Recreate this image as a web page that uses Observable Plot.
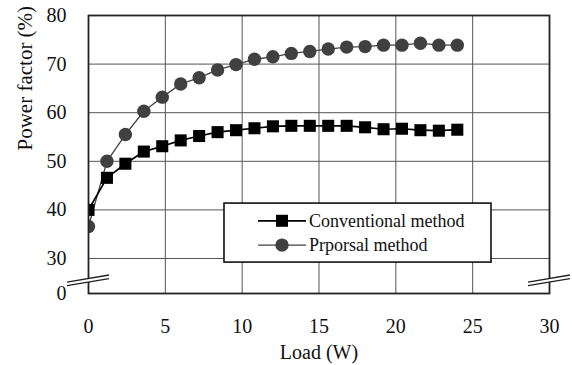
<!DOCTYPE html>
<html>
<head>
<meta charset="utf-8">
<script src="https://cdn.jsdelivr.net/npm/d3@7"></script>
<script src="https://cdn.jsdelivr.net/npm/@observablehq/plot@0.6"></script>
<style>
  html, body { margin: 0; padding: 0; background: #fff; }
  #chart { position: relative; width: 572px; height: 365px; }
  svg, svg text { font-family: "Liberation Serif", "Times New Roman", serif !important; }
</style>
</head>
<body>
<div id="chart"></div>
<script>
// ---- data ----
const loads = [0, 1.2, 2.4, 3.6, 4.8, 6.0, 7.2, 8.4, 9.6, 10.8, 12.0, 13.2, 14.4, 15.6, 16.8, 18.0, 19.2, 20.4, 21.6, 22.8, 24.0];
const conventional = [40.0, 46.6, 49.5, 52.0, 53.1, 54.3, 55.2, 56.0, 56.4, 56.8, 57.2, 57.3, 57.3, 57.3, 57.3, 57.0, 56.6, 56.7, 56.4, 56.3, 56.5];
const proposal = [36.6, 50.0, 55.5, 60.3, 63.2, 65.9, 67.2, 68.8, 69.9, 71.0, 71.5, 72.2, 72.6, 73.1, 73.5, 73.6, 73.9, 73.9, 74.3, 73.9, 73.9];
const seriesNames = ["Conventional method", "Prporsal method"];
const xTicks = [0, 5, 10, 15, 20, 25, 30];
const yTickLabels = ["0", "30", "40", "50", "60", "70", "80"];
const xLabel = "Load (W)";
const yLabel = "Power factor (%)";

// broken axis: the "0" tick sits at the bottom of a shortened scale
const BREAK_BASE = 22.8;
const BREAK_AT = 25.4;
const yTicks = yTickLabels.map(t => t === "0" ? BREAK_BASE : +t);
const yFmt = v => v === BREAK_BASE ? "0" : String(v);

const convData = loads.map((x, i) => ({x, y: conventional[i]}));
const propData = loads.map((x, i) => ({x, y: proposal[i]}));

const DARK = "#404040";
const SERIF = "'Liberation Serif', 'Times New Roman', serif";

const plot = Plot.plot({
  width: 572,
  height: 365,
  marginLeft: 88,
  marginRight: 23,
  marginTop: 15,
  marginBottom: 72,
  style: {fontFamily: SERIF, background: "#fff", color: "#111"},
  x: {domain: [0, 30]},
  y: {domain: [BREAK_BASE, 80]},
  marks: [
    Plot.gridX(xTicks.filter(t => t > 0 && t < 30), {stroke: "#555", strokeOpacity: 1, strokeWidth: 1}),
    Plot.gridY(yTicks.filter(t => t > BREAK_BASE && t < 80), {stroke: "#555", strokeOpacity: 1, strokeWidth: 1}),
    Plot.axisX({ticks: xTicks, tickSize: 0, tickPadding: 25, fontSize: 20, fontFamily: SERIF, label: null}),
    Plot.axisY({ticks: yTicks, tickFormat: yFmt, tickSize: 0, tickPadding: 22, fontSize: 20, fontFamily: SERIF, label: null}),
    Plot.line(propData, {x: "x", y: "y", stroke: DARK, strokeWidth: 1.3, clip: true}),
    Plot.line(convData, {x: "x", y: "y", stroke: "#000", strokeWidth: 1.7, clip: true}),
    Plot.dot(propData, {x: "x", y: "y", r: 6.7, fill: DARK, stroke: "none", clip: true}),
    Plot.dot(convData, {x: "x", y: "y", symbol: "square", r: 6.8, fill: "#000", stroke: "none", clip: true}),
    Plot.frame({stroke: "#222", strokeWidth: 1.8}),
    Plot.text([xLabel], {frameAnchor: "bottom", dy: 59, lineAnchor: "middle", fontSize: 20, fontFamily: SERIF, fill: "#111"}),
    Plot.text([yLabel], {frameAnchor: "left", dx: -63, dy: -4, rotate: -90, lineAnchor: "middle", fontSize: 21, fontFamily: SERIF, fill: "#111"})
  ]
});

document.getElementById("chart").appendChild(plot);

// ---- axis break marks & legend, placed through the plot's scales ----
const sx = plot.scale("x"), sy = plot.scale("y");
const svg = d3.select(plot);
const yb = sy.apply(BREAK_AT);
const half = 21, slope = -0.17, gap = 1.8;
[sx.apply(0), sx.apply(30)].forEach(cx => {
  const g = svg.append("g");
  const x0 = cx - half, x1 = cx + half;
  const y0 = yb - slope * half, y1 = yb + slope * half;
  g.append("polygon")
    .attr("points", [[x0, y0 - gap], [x1, y1 - gap], [x1, y1 + gap], [x0, y0 + gap]].map(p => p.join(",")).join(" "))
    .attr("fill", "#fff");
  [-gap, gap].forEach(o => {
    g.append("line").attr("x1", x0).attr("y1", y0 + o).attr("x2", x1).attr("y2", y1 + o)
      .attr("stroke", "#222").attr("stroke-width", 1.3);
  });
});

// legend box (inside the plot area)
const lg = svg.append("g").attr("text-anchor", "start");
const lx = sx.apply(8.85), ly = sy.apply(41.3);
const lw = 267, lh = 59;
lg.append("rect").attr("x", lx).attr("y", ly).attr("width", lw).attr("height", lh)
  .attr("fill", "#fff").attr("stroke", "#111").attr("stroke-width", 1.6);
const rows = [
  {name: seriesNames[0], color: "#000", sw: 1.7, sym: "square"},
  {name: seriesNames[1], color: DARK, sw: 1.3, sym: "circle"}
];
rows.forEach((r, i) => {
  const cy = ly + 17.7 + i * 24.3;
  const a = lx + 34, b = lx + 82, m = (a + b) / 2;
  lg.append("line").attr("x1", a).attr("x2", b).attr("y1", cy).attr("y2", cy)
    .attr("stroke", r.color).attr("stroke-width", r.sw);
  if (r.sym === "square") {
    lg.append("rect").attr("x", m - 6).attr("y", cy - 6).attr("width", 12).attr("height", 12).attr("fill", r.color);
  } else {
    lg.append("circle").attr("cx", m).attr("cy", cy).attr("r", 6.7).attr("fill", r.color);
  }
  lg.append("text").attr("x", b + 3).attr("y", cy).attr("dy", "0.32em")
    .attr("text-anchor", "start").attr("font-size", 18).attr("font-family", SERIF).attr("fill", "#111").text(r.name);
});
</script>
</body>
</html>
